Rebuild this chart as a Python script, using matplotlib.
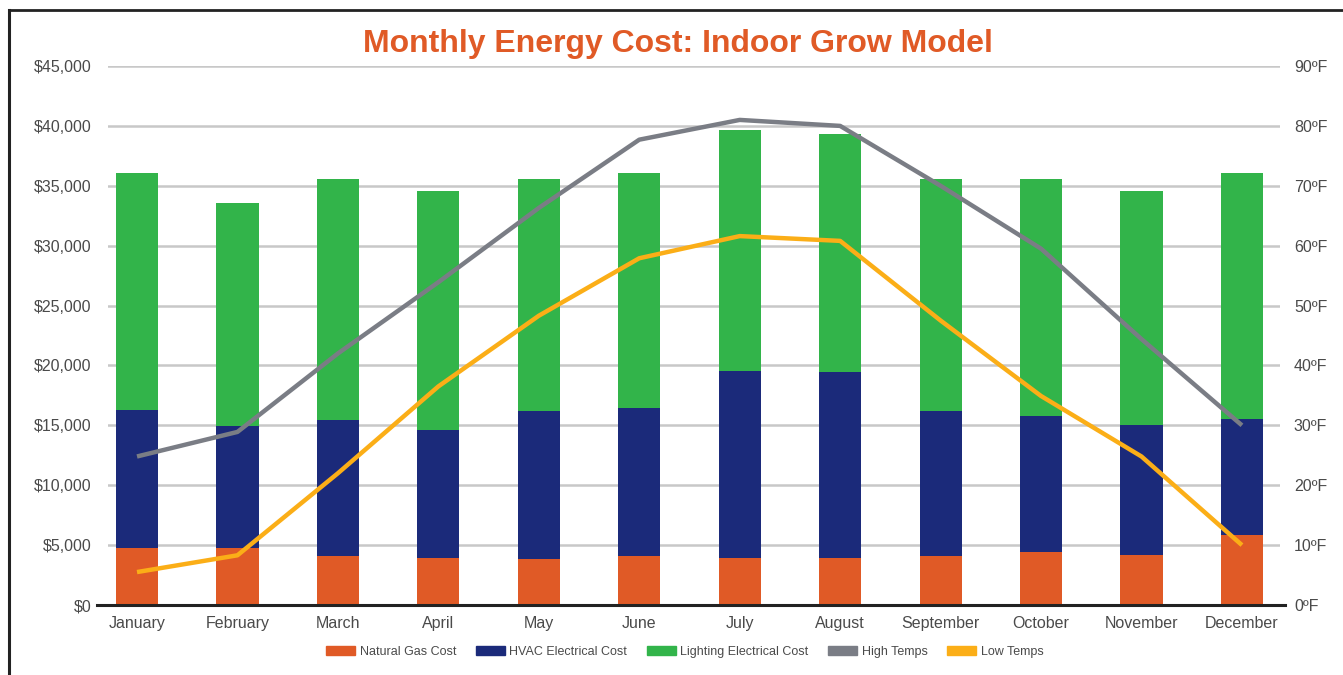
import matplotlib
matplotlib.use('Agg')
import matplotlib.pyplot as plt
from matplotlib.patches import Patch
from matplotlib.lines import Line2D
import numpy as np

plt.rcParams['font.family'] = ['Liberation Sans', 'DejaVu Sans']

months = ['January', 'February', 'March', 'April', 'May', 'June', 'July',
          'August', 'September', 'October', 'November', 'December']
gas_cost = [4800, 4800, 4050, 3930, 3800, 4050, 3930, 3930, 4050, 4400, 4170, 5830]
hvac_cost = [11470, 10150, 11430, 10690, 12390, 12380, 15590, 15510, 12140, 11390, 10830, 9730]
light_cost = [19780, 18600, 20080, 19980, 19370, 19620, 20160, 19910, 19370, 19770, 19600, 20490]
high_temps = [24.8, 28.9, 42, 53.9, 66.3, 77.7, 81, 80, 70, 59.5, 44.4, 30]
low_temps = [5.5, 8.3, 22, 36.5, 48.3, 57.9, 61.6, 60.8, 47.5, 34.9, 24.8, 10]

cost_ticks = [0, 5000, 10000, 15000, 20000, 25000, 30000, 35000, 40000, 45000]
temp_ticks = [0, 10, 20, 30, 40, 50, 60, 70, 80, 90]

c_gas = '#E05A26'
c_hvac = '#1B2A7A'
c_light = '#32B44A'
c_high = '#7A7D85'
c_low = '#FBAE17'
c_txt = '#4a4a4a'

fig = plt.figure(figsize=(13.43, 6.75), dpi=100)
ax = fig.add_axes([0.0804, 0.1037, 0.8727, 0.7985])
ax2 = ax.twinx()

x = np.arange(len(months))
w = 0.42
gas = np.array(gas_cost)
hvac = np.array(hvac_cost)
light = np.array(light_cost)
ax.bar(x, gas, w, color=c_gas, zorder=2)
ax.bar(x, hvac, w, bottom=gas, color=c_hvac, zorder=2)
ax.bar(x, light, w, bottom=gas + hvac, color=c_light, zorder=2)

ax.set_ylim(0, 45000)
ax.set_xlim(-0.289, 11.379)
ax.set_yticks(cost_ticks)
ax.set_yticklabels(['${:,}'.format(v) for v in cost_ticks])
ax.set_xticks(x)
ax.set_xticklabels(months)
ax.yaxis.grid(True, color='#c8c8c8', linewidth=1.8, zorder=0)
ax.set_axisbelow(True)
ax.tick_params(axis='y', length=0, pad=12, labelsize=11.5, labelcolor=c_txt)
ax.tick_params(axis='x', length=0, pad=8, labelsize=11.5, labelcolor=c_txt)
for s in ax.spines.values():
    s.set_visible(False)

ax2.plot(x, high_temps, color=c_high, lw=3.2, solid_capstyle='butt', zorder=3)
ax2.plot(x, low_temps, color=c_low, lw=3.2, solid_capstyle='butt', zorder=3)
ax2.set_ylim(0, 90)
ax2.set_yticks(temp_ticks)
ax2.set_yticklabels(['{}ºF'.format(v) for v in temp_ticks])
ax2.tick_params(axis='y', length=0, pad=10, labelsize=11.5, labelcolor=c_txt)
for s in ax2.spines.values():
    s.set_visible(False)

# bottom axis line, a bit wider than the grid
ax.add_line(Line2D([-0.009, 1.004], [0, 0], transform=ax.transAxes, color='#222222',
                   lw=2.2, clip_on=False, zorder=5))

fig.text(0.505, 1 - 52 / 675, 'Monthly Energy Cost: Indoor Grow Model', ha='center',
         va='baseline', fontsize=23, fontweight='bold', color=c_gas)

handles = [Patch(color=c_gas), Patch(color=c_hvac), Patch(color=c_light),
           Patch(color=c_high), Patch(color=c_low)]
labels = ['Natural Gas Cost', 'HVAC Electrical Cost', 'Lighting Electrical Cost',
          'High Temps', 'Low Temps']
fig.legend(handles, labels, loc='center', bbox_to_anchor=(0.51, 0.034), ncol=5,
           frameon=False, fontsize=9, labelcolor=c_txt, handlelength=2.3,
           handleheight=0.65, handletextpad=0.35, columnspacing=1.6)

# page frame lines on the left and top
fig.add_artist(Line2D([8.5 / 1343, 8.5 / 1343], [0, 1 - 9.5 / 675], color='#222222', lw=2.2))
fig.add_artist(Line2D([8.5 / 1343, 1], [1 - 9.5 / 675, 1 - 9.5 / 675], color='#222222', lw=2.0))

fig.savefig('out.png', dpi=100)
